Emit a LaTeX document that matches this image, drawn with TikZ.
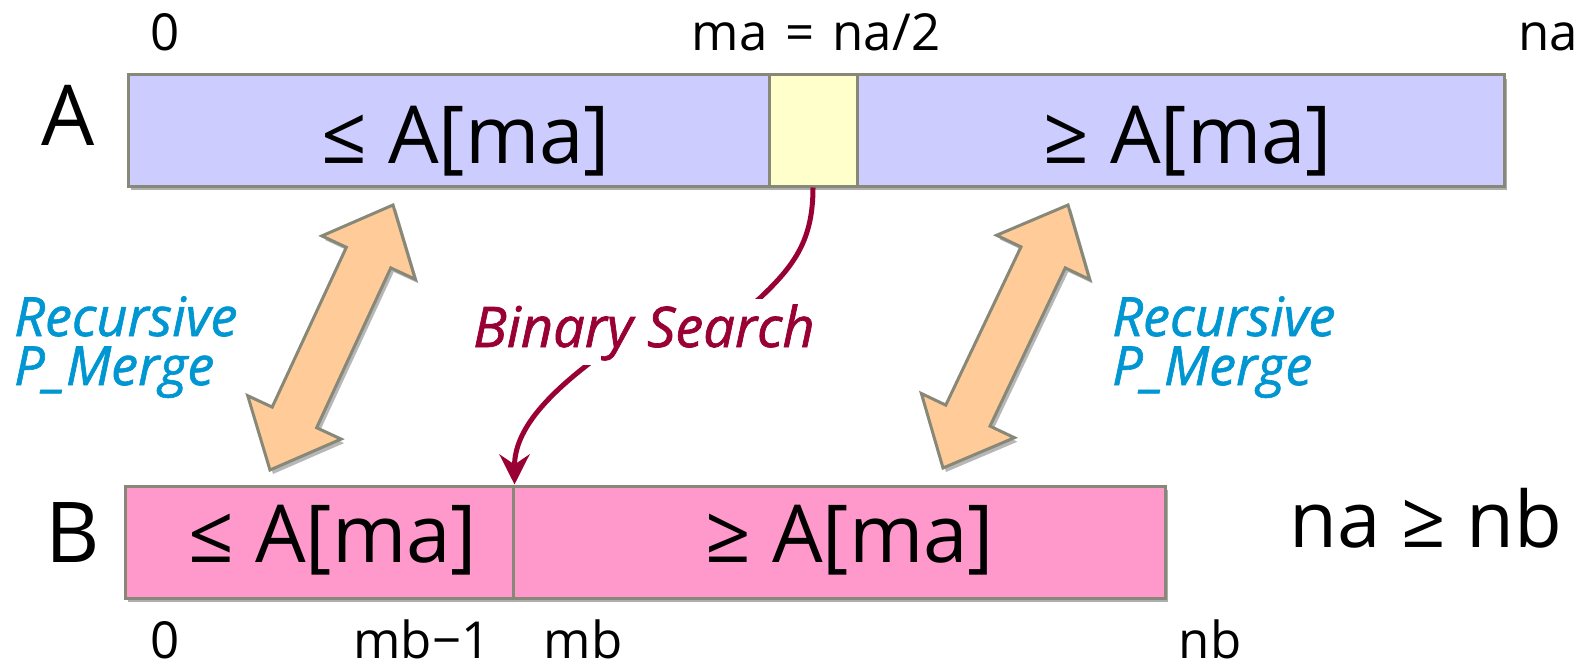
\documentclass[tikz,border=0pt]{standalone}
\usepackage{fontspec}
\setmainfont{Open Sans}
\newfontfamily\notefam{Open Sans}[FakeBold=1.2]
\usetikzlibrary{calc,arrows.meta,shadows}

\definecolor{edgegray}{RGB}{136,136,120}
\definecolor{cellA}{RGB}{204,204,255}
\definecolor{cellMid}{RGB}{255,255,204}
\definecolor{cellB}{RGB}{255,153,204}
\definecolor{peach}{RGB}{255,204,153}
\definecolor{mergeblue}{RGB}{0,150,210}
\definecolor{searchred}{RGB}{153,0,51}

\newcommand\cellfnt{\fontsize{80}{90}\selectfont}
\newcommand\namefnt{\fontsize{84}{96}\selectfont}
\newcommand\idxfnt{\fontsize{51}{60}\selectfont}
\newcommand\notefnt{\notefam\fontsize{54}{49}\selectfont\itshape}

% a fat double-headed arrow between two coordinates
\newcommand\fatarrow[2]{%
  \draw[fatarrow]
    (#1)
    -- ($(#1)!58pt!(#2)!51.5pt!90:(#2)$)
    -- ($(#1)!58pt!(#2)!24.5pt!90:(#2)$)
    -- ($(#2)!58pt!(#1)!24.5pt!-90:(#1)$)
    -- ($(#2)!58pt!(#1)!51.5pt!-90:(#1)$)
    -- (#2)
    -- ($(#2)!58pt!(#1)!51.5pt!90:(#1)$)
    -- ($(#2)!58pt!(#1)!24.5pt!90:(#1)$)
    -- ($(#1)!58pt!(#2)!24.5pt!-90:(#2)$)
    -- ($(#1)!58pt!(#2)!51.5pt!-90:(#2)$)
    -- cycle;}

\tikzset{
  rowshadow/.style={drop shadow={shadow xshift=3pt,shadow yshift=-4pt,opacity=0.45,fill=black!70}},
  cell/.style={draw=edgegray,line width=3pt,inner sep=0pt,anchor=center},
  rowA/.style={cell,minimum height=111pt},
  rowB/.style={cell,minimum height=112pt},
  celltext/.style={font=\cellfnt,anchor=base,inner sep=0pt},
  idx/.style={font=\idxfnt,anchor=base,inner sep=0pt,text depth=0pt},
  arrname/.style={font=\namefnt,anchor=base,inner sep=0pt},
  fatarrow/.style={draw=edgegray,line width=3pt,fill=peach,line join=miter,
    drop shadow={shadow xshift=3pt,shadow yshift=-4pt,opacity=0.4,fill=black!70}},
  mergenote/.style={font=\notefnt,text=mergeblue,align=left,anchor=base west,inner sep=0pt},
  searchline/.style={draw=searchred,line width=5pt,
    -{Stealth[length=30pt,width=30pt,inset=10pt]}},
  searchnote/.style={font=\notefam\fontsize{56}{60}\selectfont\itshape,text=searchred,
    fill=white,inner sep=5pt,anchor=base},
}

\begin{document}
\begin{tikzpicture}[x=1pt,y=-1pt]
\useasboundingbox (0,0) rectangle (1595,666);

% array A
\path[fill=cellA,rowshadow] (128,75) rectangle (1504,186);
\node[rowA,fill=cellA,minimum width=641pt] (Al) at (448.5,130.5) {};
\node[rowA,fill=cellA,minimum width=647pt] (Ar) at (1180.5,130.5) {};
\node[rowA,fill=cellMid,minimum width=88pt] (Am) at (813,130.5) {};
\node[celltext] (Alt) at (466,163) {≤ A[ma]};
\node[celltext] (Art) at (1188,163) {≥ A[ma]};

% array B
\path[fill=cellB,rowshadow] (125,486) rectangle (1165,598);
\node[rowB,fill=cellB,minimum width=388pt] (Bl) at (319,542) {};
\node[rowB,fill=cellB,minimum width=652pt] (Br) at (839,542) {};
\node[celltext] (Blt) at (333,562) {≤ A[ma]};
\node[celltext] (Brt) at (850,562) {≥ A[ma]};

% names and sizes
\node[arrname] (nameA) at (68,146) {A};
\node[arrname] (nameB) at (73,562) {B};
\node[font=\fontsize{78}{90}\selectfont,anchor=base,inner sep=0pt] (cmp) at (1426,547) {na ≥ nb};

% indices
\node[idx] (a0) at (165,51) {0};
\node[idx] (ama) at (816,51) {ma\hspace{18pt}=\hspace{18pt}na/2};
\node[idx] (ana) at (1548,51) {na};
\node[idx] (b0) at (165,658) {0};
\node[idx] (bmb1) at (422,658) {mb−1};
\node[idx] (bmb) at (583,658) {mb};
\node[idx] (bnb) at (1210,658) {nb};

% recursive merges
\coordinate (la1) at (270,470);
\coordinate (la2) at (393,205);
\coordinate (ra1) at (943,468);
\coordinate (ra2) at (1068,205);
\fatarrow{la1}{la2}
\fatarrow{ra1}{ra2}
\node[mergenote] (recL) at (14,385) {Recursive\\P\_Merge};
\node[mergenote] (recR) at (1112,385) {Recursive\\P\_Merge};

% binary search for the split point of B
\coordinate (bsin) at (760,298);
\coordinate (bsout) at (595,359);
\draw[searchline] (Am.south) .. controls +(0,52) and +(35,-33) .. (bsin)
  .. controls +(-40,37) and +(45,-34) .. (bsout)
  .. controls +(-45,34) and +(0,-56) .. (Bl.north east);
\node[searchnote] (bs) at (644,347) {Binary Search};
\end{tikzpicture}
\end{document}
